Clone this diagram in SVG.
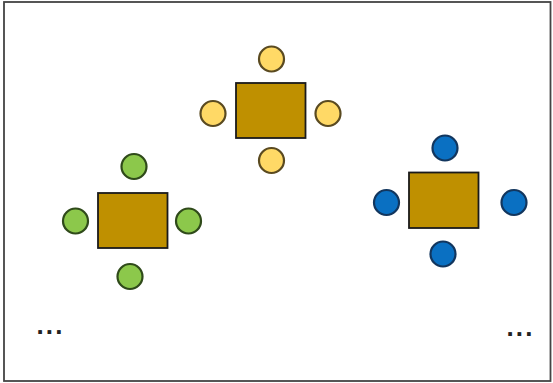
<svg xmlns="http://www.w3.org/2000/svg" width="553" height="383" viewBox="0 0 553 383">
<style>
.table{fill:#BF9000;stroke:#1a1a1a;stroke-width:1.8}
.y{fill:#FFD966;stroke:#5a4a20;stroke-width:2.2}
.g{fill:#8CC84B;stroke:#2f4a1a;stroke-width:2.2}
.b{fill:#0A70C2;stroke:#12365e;stroke-width:2.2}
.dots{font-family:"Liberation Sans",Arial,sans-serif;font-size:26px;font-weight:bold;letter-spacing:2.1px;fill:#222}
</style>
<rect x="4" y="2" width="546.5" height="379" fill="#fff" stroke="#444" stroke-width="1.8"/>
<g id="group-yellow">
<rect class="table" x="236" y="83" width="69.5" height="55"/>
<circle class="y" cx="271.5" cy="59" r="12.5"/>
<circle class="y" cx="213" cy="113.5" r="12.5"/>
<circle class="y" cx="328" cy="113.5" r="12.5"/>
<circle class="y" cx="271.5" cy="160.5" r="12.5"/>
</g>
<g id="group-green">
<rect class="table" x="98" y="193" width="69.5" height="55"/>
<circle class="g" cx="134" cy="166.5" r="12.5"/>
<circle class="g" cx="75.5" cy="221" r="12.5"/>
<circle class="g" cx="188.5" cy="221" r="12.5"/>
<circle class="g" cx="130" cy="276.5" r="12.5"/>
</g>
<g id="group-blue">
<rect class="table" x="409" y="172.5" width="69.5" height="55.5"/>
<circle class="b" cx="445" cy="148" r="12.5"/>
<circle class="b" cx="386.5" cy="202.5" r="12.5"/>
<circle class="b" cx="514" cy="202.5" r="12.5"/>
<circle class="b" cx="443" cy="254" r="12.5"/>
</g>
<g id="connectors"/>
<text class="dots" x="36.5" y="334.3">...</text>
<text class="dots" x="506.5" y="336">...</text>
</svg>
